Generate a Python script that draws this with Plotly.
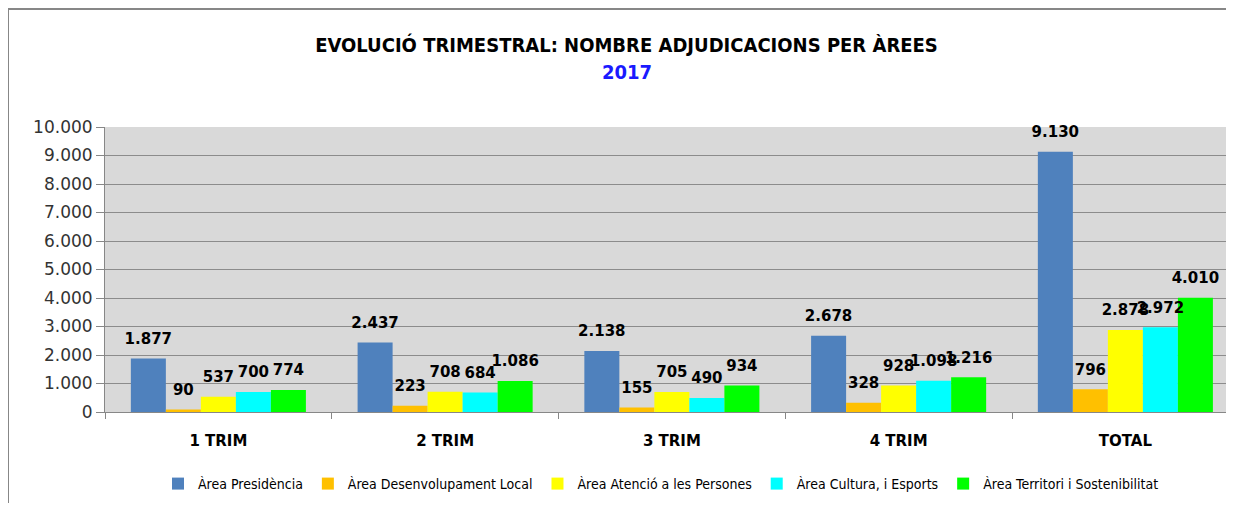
import plotly.graph_objects as go

categories = ["1 TRIM", "2 TRIM", "3 TRIM", "4 TRIM", "TOTAL"]
series_names = [
    "Àrea Presidència",
    "Àrea Desenvolupament Local",
    "Àrea Atenció a les Persones",
    "Àrea Cultura, i Esports",
    "Àrea Territori i Sostenibilitat",
]
presidencia = [1877, 2437, 2138, 2678, 9130]
desenvolupament = [90, 223, 155, 328, 796]
atencio = [537, 708, 705, 928, 2878]
cultura = [700, 684, 490, 1098, 2972]
territori = [774, 1086, 934, 1216, 4010]
series_values = [presidencia, desenvolupament, atencio, cultura, territori]
colors = ["#4f81bd", "#ffc000", "#ffff00", "#00ffff", "#00ff00"]
y_ticks = [0, 1000, 2000, 3000, 4000, 5000, 6000, 7000, 8000, 9000, 10000]

BARGAP = 0.228
W, H = 1226, 495
PW = W - 97  # plot width in px

fig = go.Figure()
for i, (name, vals, col) in enumerate(zip(series_names, series_values, colors)):
    fig.add_trace(go.Bar(
        x=categories, y=vals, name=name, marker=dict(color=col, line=dict(width=0)),
        offsetgroup=str(i), hoverinfo="skip",
    ))
for i, (name, vals) in enumerate(zip(series_names, series_values)):
    fig.add_trace(go.Scatter(
        x=categories, y=vals, mode="markers+text", showlegend=False,
        marker=dict(size=16, opacity=0), offsetgroup=str(i),
        texttemplate="%{y:,}", textposition="top center",
        textfont=dict(family="DejaVu Sans", size=15, color="black", weight="bold"),
        cliponaxis=False, hoverinfo="skip",
    ))

border = dict(color="#878787", width=2)
fig.update_layout(
    width=W, height=H,
    margin=dict(l=97, r=0, t=119, b=91),
    paper_bgcolor="white", plot_bgcolor="#d9d9d9",
    barmode="group", bargap=BARGAP, bargroupgap=0,
    scattermode="group", scattergap=BARGAP,
    separators=",.",
    showlegend=True,
    title=dict(
        text="<b>EVOLUCIÓ TRIMESTRAL: NOMBRE ADJUDICACIONS PER ÀREES</b>",
        x=618.5 / W, xanchor="center", xref="container",
        y=1 - 37 / H, yanchor="middle", yref="container",
        font=dict(family="DejaVu Sans Condensed", size=20, color="black"),
    ),
    legend=dict(
        orientation="h", x=(653 - 97) / PW, xanchor="center", y=-0.2526, yanchor="middle",
        font=dict(family="DejaVu Sans Condensed", size=14, color="black"),
        itemwidth=30, traceorder="normal",
    ),
    annotations=[dict(
        text="<b>2017</b>", x=(619 - 97) / PW, xref="paper", y=1.193, yref="paper",
        showarrow=False, xanchor="center", yanchor="middle",
        font=dict(family="DejaVu Sans Condensed", size=20, color="#1a1aff"),
    )],
    shapes=[
        dict(type="line", xref="paper", yref="paper",
             x0=-97 / PW, x1=-97 / PW, y0=-0.45, y1=1.414, line=border, layer="below"),
        dict(type="line", xref="paper", yref="paper",
             x0=-97 / PW, x1=1.05, y0=1.414, y1=1.414, line=border, layer="below"),
    ],
)
fig.update_xaxes(
    range=[-0.5, -0.5 + PW / 226.75], showline=True, linecolor="#878787", linewidth=1,
    ticks="outside", tickson="boundaries", ticklen=6, tickcolor="#878787",
    tickfont=dict(family="DejaVu Sans", size=15, color="black", weight="bold"),
    ticklabelstandoff=15, showgrid=False,
)
fig.update_yaxes(
    range=[0, 10000], tickvals=y_ticks, tickformat=",", showline=True,
    linecolor="#878787", linewidth=1, ticks="outside", ticklen=8, tickcolor="#878787",
    showgrid=True, gridcolor="#8c8c8c", gridwidth=1, zeroline=False,
    tickfont=dict(family="DejaVu Sans", size=17, color="#333333"),
)

fig.write_html("out.html")
